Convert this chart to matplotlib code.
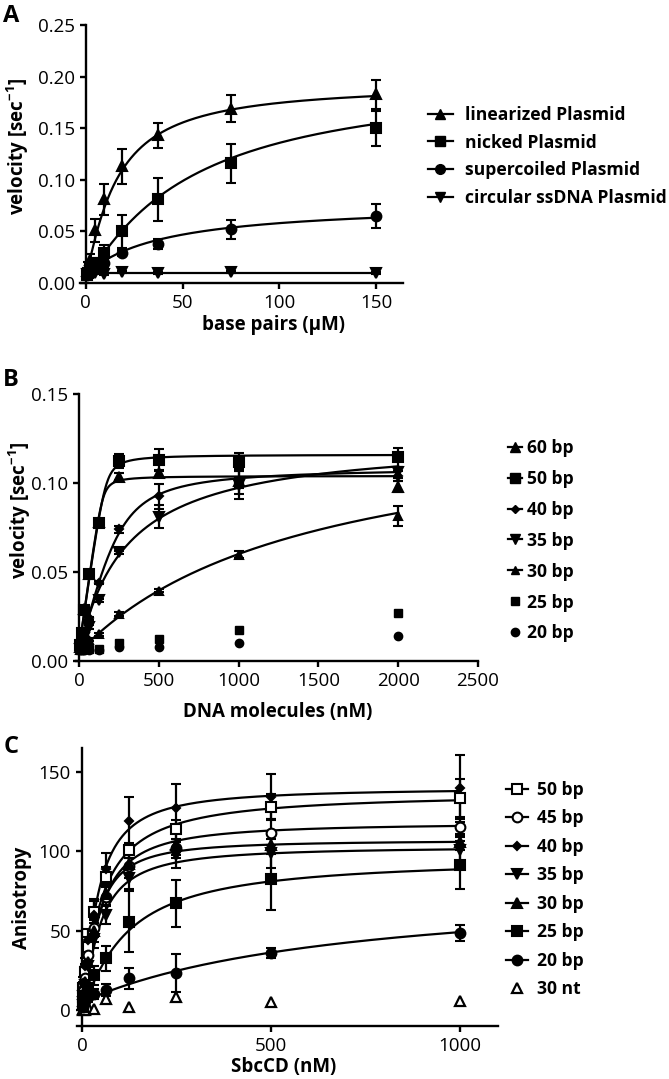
import numpy as np
import matplotlib.pyplot as plt
from matplotlib.lines import Line2D

plt.rcParams['font.family'] = ['Open Sans', 'DejaVu Sans']
plt.rcParams['mathtext.fontset'] = 'custom'
plt.rcParams['mathtext.rm'] = 'Open Sans'
plt.rcParams['mathtext.bf'] = 'Open Sans:bold'

# ---- panel A: plasmid substrates ----
a_x = [0.59, 1.17, 2.34, 4.69, 9.38, 18.75, 37.5, 75, 150]
a_labels = ['linearized Plasmid', 'nicked Plasmid', 'supercoiled Plasmid', 'circular ssDNA Plasmid']
a_lin = [0.012, 0.016, 0.022, 0.051, 0.081, 0.113, 0.143, 0.169, 0.183]
a_lin_err = [0.003, 0.004, 0.006, 0.011, 0.015, 0.017, 0.012, 0.013, 0.014]
a_nick = [0.008, 0.010, 0.015, 0.019, 0.029, 0.050, 0.081, 0.116, 0.150]
a_nick_err = [0.002, 0.002, 0.004, 0.005, 0.008, 0.016, 0.021, 0.019, 0.017]
a_sc = [0.008, 0.009, 0.011, 0.014, 0.019, 0.029, 0.038, 0.052, 0.065]
a_sc_err = [0.001, 0.002, 0.002, 0.003, 0.004, 0.003, 0.005, 0.009, 0.012]
a_ss = [0.009, 0.008, 0.009, 0.010, 0.009, 0.011, 0.010, 0.011, 0.010]
a_ss_err = [0.001, 0.001, 0.001, 0.001, 0.001, 0.001, 0.001, 0.001, 0.001]
# fitted curves: base, vmax, K, hill slope
a_fit = [(0.008, 0.185, 16, 1.2), (0.004, 0.20, 55, 1.1), (0.008, 0.07, 40, 1.0), (0.010, 0.0, 10, 1.0)]

# ---- panel B: short duplexes ----
b_x = [7.8, 15.6, 31.25, 62.5, 125, 250, 500, 1000, 2000]
b_labels = ['60 bp', '50 bp', '40 bp', '35 bp', '30 bp', '25 bp', '20 bp']
b_60 = [0.008, 0.014, 0.029, 0.049, 0.078, 0.1035, 0.1055, 0.101, 0.098]
b_60_err = [0.001, 0.001, 0.001, 0.001, 0.001, 0.002, 0.002, 0.007, 0.003]
b_50 = [0.009, 0.0155, 0.0287, 0.049, 0.0775, 0.1125, 0.113, 0.112, 0.1144]
b_50_err = [0.001, 0.001, 0.002, 0.001, 0.002, 0.004, 0.006, 0.005, 0.0055]
b_40 = [0.007, 0.010, 0.016, 0.024, 0.044, 0.074, 0.0925, 0.100, 0.104]
b_40_err = [0.001, 0.001, 0.001, 0.001, 0.001, 0.002, 0.007, 0.003, 0.003]
b_35 = [0.007, 0.009, 0.013, 0.019, 0.034, 0.061, 0.081, 0.099, 0.106]
b_35_err = [0.001, 0.001, 0.001, 0.001, 0.001, 0.001, 0.0065, 0.008, 0.003]
b_30 = [0.006, 0.007, 0.009, 0.012, 0.015, 0.0265, 0.0395, 0.0596, 0.0815]
b_30_err = [0.001, 0.001, 0.001, 0.001, 0.001, 0.001, 0.001, 0.002, 0.0055]
b_25 = [0.006, 0.006, 0.007, 0.007, 0.007, 0.0100, 0.0125, 0.0174, 0.027]
b_20 = [0.006, 0.006, 0.006, 0.006, 0.006, 0.0077, 0.0078, 0.0099, 0.014]
# tight-binding fits: base, vmax, E, K
b_fit = [(0.007, 0.097, 150, 3), (0.007, 0.109, 170, 5), (0.005, 0.104, 250, 50),
         (0.005, 0.12, 0, 300), (0.005, 0.135, 0, 1450)]

# ---- panel C: anisotropy ----
c_x = [1.95, 3.9, 7.8, 15.6, 31.25, 62.5, 125, 250, 500, 1000]
c_labels = ['50 bp', '45 bp', '40 bp', '35 bp', '30 bp', '25 bp', '20 bp', '30 nt']
c_50 = [8, 14, 24, 40, 62, 84, 100.5, 113.8, 128, 133.4]
c_50_err = [3, 4, 5, 6, 7, 6, 5, 6, 8, 12]
c_45 = [7, 12, 20, 35, 52, 71.4, 90.7, 101.9, 111.7, 115.5]
c_45_err = [3, 3, 4, 5, 6, 6, 5, 4, 8, 5]
c_40 = [10, 17, 28, 44, 60, 88.6, 119, 127.5, 134.4, 139.7]
c_40_err = [3, 4, 5, 7, 10, 10, 15, 15, 14, 21]
c_35 = [5, 9, 16, 28, 45, 59.9, 83, 97.7, 98.7, 101]
c_35_err = [2, 3, 4, 5, 6, 6, 7, 8, 9, 8]
c_30 = [6, 10, 18, 30, 50, 73, 92, 104, 104, 106]
c_30_err = [2, 3, 4, 5, 7, 7, 9, 8, 6, 5]
c_25 = [3, 5, 9, 14, 22, 32.6, 55.7, 67.2, 82.3, 91.4]
c_25_err = [2, 3, 4, 5, 6, 8, 19, 15, 19, 15]
c_20 = [2, 4, 6, 8, 10, 12.6, 20, 23.1, 36.1, 48.3]
c_20_err = [2, 2, 3, 3, 3, 4, 6.5, 12, 3, 5]
c_nt = [0, 1, 0, 2, 0.5, 6.7, 2.1, 8.0, 5.2, 5.9]
# hill fits: base, vmax, K, n
c_fit = [(0, 137, 50, 1.1), (0, 118, 45, 1.3), (0, 140, 40, 1.3), (0, 103, 45, 1.3),
         (0, 107, 38, 1.4), (0, 96, 115, 1.15), (5, 75, 700, 1.0)]

W, H = 669, 1079


def hill(x, base, vmax, k, n):
    return base + vmax * x ** n / (k ** n + x ** n)


def tight(x, base, vmax, e, k):
    s = e + x + k
    return base + vmax * 2 * x / (s + np.sqrt(s * s - 4 * e * x))


def style(ax):
    ax.spines['top'].set_visible(False)
    ax.spines['right'].set_visible(False)
    for side in ['left', 'bottom']:
        ax.spines[side].set_linewidth(1.7)
    ax.tick_params(width=1.7, length=4, labelsize=13.5, pad=4)


def points(ax, x, y, err, marker, ms, open_=False):
    ax.errorbar(x, y, yerr=err, fmt=marker, color='black', ms=ms,
                mfc='white' if open_ else 'black', mew=1.5,
                capsize=3.5, capthick=1.6, elinewidth=1.6, clip_on=False, zorder=3)


def label(x, y, s, rot=0, size=13.5):
    fig.text(x / W, 1 - y / H, s, fontsize=size, fontweight='bold', rotation=rot,
             ha='center', va='center')


fig = plt.figure(figsize=(6.69, 10.79), dpi=100)
leg_font = {'weight': 'bold', 'size': 12.6}

# ================= A =================
ax = fig.add_axes([80 / W, 1 - 283 / H, 323 / W, 258 / H])
style(ax)
ax.spines['left'].set_position(('data', 0))
xx = np.linspace(0, 150, 400)
a_series = [(a_lin, a_lin_err, '^'), (a_nick, a_nick_err, 's'),
            (a_sc, a_sc_err, 'o'), (a_ss, a_ss_err, 'v')]
for (y, e, m), p in zip(a_series, a_fit):
    points(ax, a_x, y, e, m, 7)
    ax.plot(xx, hill(xx, *p), color='black', lw=1.6, zorder=2)
ax.set_xlim(-3, 164)
ax.set_ylim(0, 0.25)
ax.set_xticks([0, 50, 100, 150])
ax.set_yticks(np.arange(0, 0.26, 0.05))
ax.yaxis.set_major_formatter(plt.FormatStrFormatter('%.2f'))
label(274, 325, 'base pairs (µM)')
label(18, 147, r'velocity [sec$^{\mathbf{-1}}$]', rot=90)
handles = [Line2D([], [], color='black', lw=1.6, marker=m, ms=7) for m in ['^', 's', 'o', 'v']]
fig.legend(handles, a_labels, loc='upper left', bbox_to_anchor=(419 / W, 1 - 97 / H),
           frameon=False, prop=leg_font,
           handlelength=1.45, handletextpad=0.7, labelspacing=0.56, borderpad=0)
label(11, 16, 'A', size=17)

# ================= B =================
ax = fig.add_axes([76 / W, 1 - 661 / H, 402 / W, 267 / H])
style(ax)
ax.spines['left'].set_position(('data', 0))
xx = np.linspace(0, 2000, 800)
b_series = [(b_60, b_60_err, '^', 7), (b_50, b_50_err, 's', 7.5), (b_40, b_40_err, 'D', 4.5),
            (b_35, b_35_err, 'v', 6.5), (b_30, b_30_err, '^', 5.5)]
for (y, e, m, ms), p in zip(b_series, b_fit):
    points(ax, b_x, y, e, m, ms)
    ax.plot(xx, tight(xx, *p), color='black', lw=1.6, zorder=2)
ax.plot(b_x, b_25, 's', color='black', ms=6, clip_on=False, zorder=3)
ax.plot(b_x, b_20, 'o', color='black', ms=6, clip_on=False, zorder=3)
ax.set_xlim(-19, 2500)
ax.set_ylim(0, 0.15)
ax.set_xticks(np.arange(0, 2501, 500))
ax.set_yticks([0, 0.05, 0.10, 0.15])
ax.yaxis.set_major_formatter(plt.FormatStrFormatter('%.2f'))
label(278, 712, 'DNA molecules (nM)')
label(20, 511, r'velocity [sec$^{\mathbf{-1}}$]', rot=90)
handles = [Line2D([], [], color='black', lw=1.6, marker=m, ms=ms)
           for m, ms in [('^', 7), ('s', 7.5), ('D', 4.5), ('v', 6.5), ('^', 5.5)]]
handles += [Line2D([], [], color='black', ls='none', marker='s', ms=6),
            Line2D([], [], color='black', ls='none', marker='o', ms=6)]
fig.legend(handles, b_labels, loc='upper left', bbox_to_anchor=(499 / W, 1 - 430 / H),
           frameon=False, prop=leg_font,
           handlelength=0.8, handletextpad=0.3, labelspacing=0.74, borderpad=0)
label(11, 380, 'B', size=17)

# ================= C =================
ax = fig.add_axes([77 / W, 1 - 1026 / H, 421 / W, 278 / H])
style(ax)
ax.spines['left'].set_position(('data', 0))
xx = np.linspace(0, 1000, 600)
c_series = [(c_50, c_50_err, 's', 7, True), (c_45, c_45_err, 'o', 7, True),
            (c_40, c_40_err, 'D', 4.5, False), (c_35, c_35_err, 'v', 6.5, False),
            (c_30, c_30_err, '^', 6.5, False), (c_25, c_25_err, 's', 6.5, False),
            (c_20, c_20_err, 'o', 7, False)]
for (y, e, m, ms, o), p in zip(c_series, c_fit):
    points(ax, c_x, y, e, m, ms, o)
    ax.plot(xx, hill(xx, *p), color='black', lw=1.6, zorder=2)
ax.plot(c_x, c_nt, '^', color='black', mfc='white', mew=1.6, ms=7, clip_on=False, zorder=3)
ax.set_xlim(-13, 1100)
ax.set_ylim(-10, 165)
ax.set_xticks([0, 500, 1000])
ax.set_yticks([0, 50, 100, 150])
label(284, 1067, 'SbcCD (nM)')
label(22, 898, 'Anisotropy', rot=90)
handles = [Line2D([], [], color='black', lw=1.6, marker=m, ms=ms, mfc='white' if o else 'black', mew=1.5)
           for (_, _, m, ms, o) in c_series]
handles.append(Line2D([], [], color='black', ls='none', marker='^', ms=7, mfc='white', mew=1.6))
fig.legend(handles, c_labels, loc='upper left', bbox_to_anchor=(497 / W, 1 - 772 / H),
           frameon=False, prop=leg_font,
           handlelength=1.25, handletextpad=0.55, labelspacing=0.6, borderpad=0)
label(11, 747, 'C', size=17)

fig.savefig('out.png', dpi=100)
